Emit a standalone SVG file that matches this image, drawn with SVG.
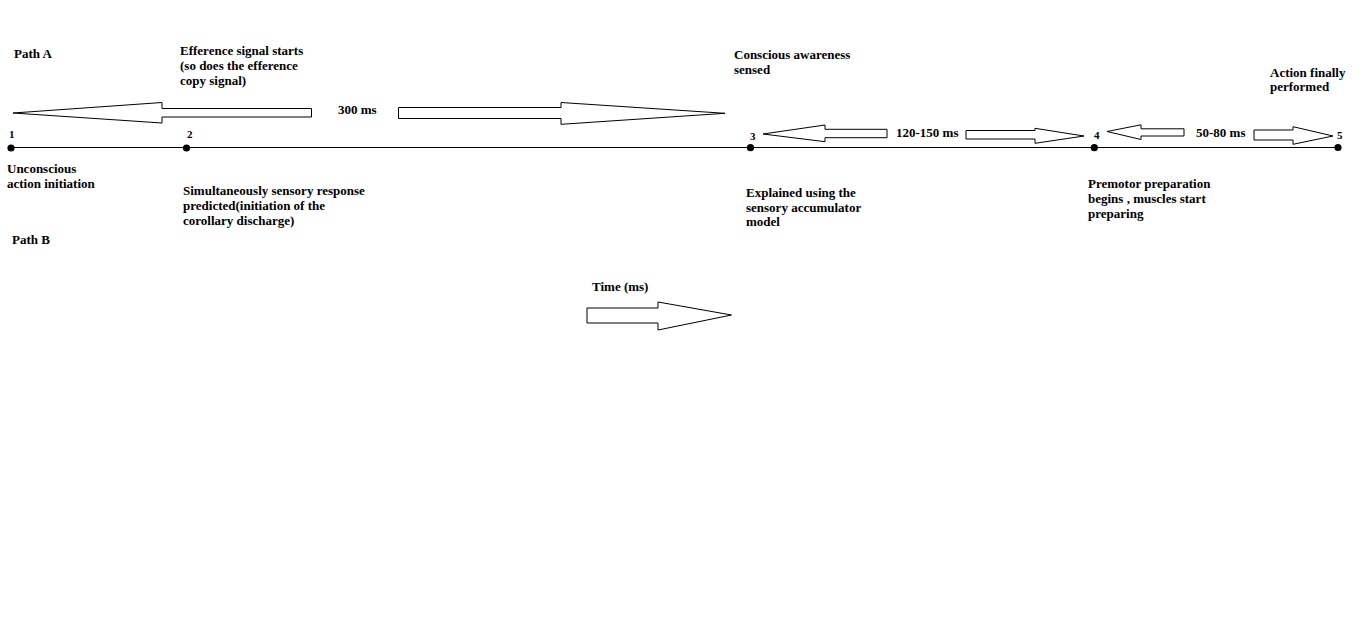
<svg xmlns="http://www.w3.org/2000/svg" width="1360" height="624" viewBox="0 0 1360 624">
<style>
text{font-family:"Liberation Serif","Times New Roman",serif;font-weight:bold;font-size:13px;fill:#000}
.num{font-size:11px}
.arr{fill:#fff;stroke:#000;stroke-width:1}
.axis{stroke:#000;stroke-width:1.2;fill:none}
.dot{fill:#000}
</style>
<rect width="1360" height="624" fill="#fff"/>
<g id="connectors">
<line class="axis" x1="8" y1="147.5" x2="1341" y2="147.5"/>
<polygon class="arr" points="13,113 162,102.5 162,108.5 311.5,108.5 311.5,117 162,117 162,123"/>
<polygon class="arr" points="398.5,107.5 561,107.5 561,102.5 725,113.3 561,124.3 561,118.5 398.5,118.5"/>
<polygon class="arr" points="763,134 825,125 825,129.3 887,129.3 887,137.7 825,137.7 825,141.7"/>
<polygon class="arr" points="966,130.5 1035,130.5 1035,128.3 1084,136 1035,143.3 1035,139 966,139"/>
<polygon class="arr" points="1107,131.5 1141,124.8 1141,128.8 1184,128.8 1184,136 1141,136 1141,139.5"/>
<polygon class="arr" points="1254,130 1293,130 1293,126.7 1333,136 1293,144.3 1293,140 1254,140"/>
<polygon class="arr" points="587,308 658,308 658,302 731.5,315 658,330 658,323 587,323"/>
<text x="338" y="114">300 ms</text>
<text x="896" y="137">120-150 ms</text>
<text x="1196" y="137">50-80 ms</text>
<text x="592" y="291">Time (ms)</text>
</g>
<g id="pathA"><text x="14" y="58">Path A</text></g>
<g id="pathB"><text x="12" y="244">Path B</text></g>
<g id="node1">
<circle class="dot" cx="11" cy="148" r="3.6"/>
<text class="num" x="9" y="138">1</text>
<text x="7" y="173">Unconscious</text>
<text x="7" y="188">action initiation</text>
</g>
<g id="node2">
<circle class="dot" cx="186.5" cy="148" r="3.6"/>
<text class="num" x="187" y="138">2</text>
<text x="180" y="55">Efference signal starts</text>
<text x="180" y="70">(so does the efference</text>
<text x="180" y="85">copy signal)</text>
<text x="183" y="195">Simultaneously sensory response</text>
<text x="183" y="210">predicted(initiation of the</text>
<text x="183" y="225">corollary discharge)</text>
</g>
<g id="node3">
<circle class="dot" cx="750.5" cy="147.7" r="3.6"/>
<text class="num" x="750" y="140">3</text>
<text x="734" y="59">Conscious awareness</text>
<text x="734" y="74">sensed</text>
<text x="746" y="197">Explained using the</text>
<text x="746" y="212">sensory accumulator</text>
<text x="746" y="226">model</text>
</g>
<g id="node4">
<circle class="dot" cx="1094.3" cy="147.7" r="3.6"/>
<text class="num" x="1094" y="139">4</text>
<text x="1088" y="188">Premotor preparation</text>
<text x="1088" y="203">begins , muscles start</text>
<text x="1088" y="218">preparing</text>
</g>
<g id="node5">
<circle class="dot" cx="1338" cy="147.5" r="3.6"/>
<text class="num" x="1337" y="139">5</text>
<text x="1270" y="77">Action finally</text>
<text x="1270" y="91">performed</text>
</g>
</svg>
